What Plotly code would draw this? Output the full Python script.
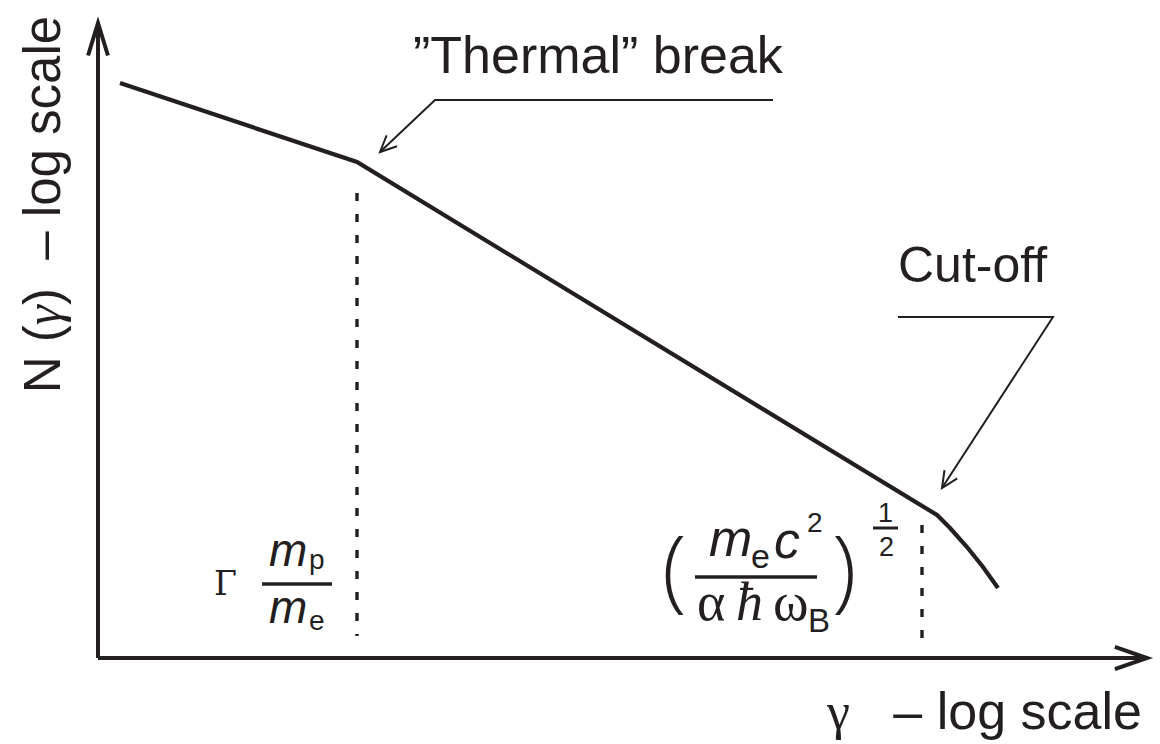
import math
import plotly.graph_objects as go

# Schematic electron spectrum N(gamma); both axes in decades (arbitrary units)
log_gamma = [0.22, 2.59, 8.39, 8.52, 8.69, 8.85, 9.00]
log_N = [5.75, 4.96, 1.43, 1.30, 1.11, 0.91, 0.70]

# Characteristic Lorentz factors marked with dotted drop lines
gamma_thermal = log_gamma[1]
gamma_cutoff = 8.24
drop_thermal = [4.65, 0.22]
drop_cutoff = [1.33, 0.16]

# Extent of the two axis arrows
axis_len_x = 10.49
axis_len_y = 6.35

INK = "#231f20"
SANS = "Liberation Sans, Arial, Helvetica, sans-serif"
SERIF = "Liberation Serif, DejaVu Serif, Times New Roman, serif"
HEAVY_SERIF = "DejaVu Serif, Liberation Serif, serif"
PAREN = "Open Sans, Liberation Sans, sans-serif"

W, H = 1160, 744
PX = 100.0            # pixels per decade on both axes
X0, Y0 = 98.0, 658.0  # canvas position of the origin


def ax(px_x):
    return (px_x - X0) / PX


def ay(px_y):
    return (Y0 - px_y) / PX


fig = go.Figure()

# Spectrum
fig.add_trace(go.Scatter(x=log_gamma, y=log_N, mode="lines",
                         line=dict(color=INK, width=4.2), hoverinfo="skip"))

# Dotted drop lines at the thermal break and the cut-off
for gx, (ytop, ybot) in ((gamma_thermal, drop_thermal), (gamma_cutoff, drop_cutoff)):
    fig.add_trace(go.Scatter(x=[gx, gx], y=[ytop, ybot], mode="lines",
                             line=dict(color=INK, width=3.4, dash="8px,13px"),
                             hoverinfo="skip"))

shapes = []
annotations = []


def vhead(tip, frm, length, half_angle, width):
    """Open V-shaped arrowhead at `tip`, pointing away from `frm`."""
    dx, dy = tip[0] - frm[0], tip[1] - frm[1]
    n = math.hypot(dx, dy)
    bx, by = -dx / n, -dy / n
    pts = []
    for s in (1, -1):
        a = math.radians(s * half_angle)
        rx = bx * math.cos(a) - by * math.sin(a)
        ry = bx * math.sin(a) + by * math.cos(a)
        pts.append((tip[0] + length * rx, tip[1] + length * ry))
    path = "M {:.4f},{:.4f} L {:.4f},{:.4f} L {:.4f},{:.4f}".format(
        pts[0][0], pts[0][1], tip[0], tip[1], pts[1][0], pts[1][1])
    shapes.append(dict(type="path", path=path, xref="x", yref="y",
                       line=dict(color=INK, width=width)))


def segment(x0, y0, x1, y1, width):
    shapes.append(dict(type="line", x0=x0, y0=y0, x1=x1, y1=y1, xref="x", yref="y",
                       line=dict(color=INK, width=width)))


def polyline(pts, width):
    path = "M " + " L ".join("{:.4f},{:.4f}".format(px, py) for px, py in pts)
    shapes.append(dict(type="path", path=path, xref="x", yref="y",
                       line=dict(color=INK, width=width)))


def label(text, cx, base, size, family=SANS, weight=None, **kw):
    """Place text centred at canvas x `cx` with its baseline at canvas y `base`."""
    font = dict(size=size, family=family, color=INK)
    if weight is not None:
        font["weight"] = weight
    annotations.append(dict(x=ax(cx), y=ay(base - 0.35 * size), xref="x", yref="y",
                            text=text, showarrow=False, xanchor="center",
                            yanchor="middle", font=font, **kw))


# Axes with open arrowheads
segment(0, 0, axis_len_x, 0, 4)
segment(0, 0, 0, axis_len_y, 4)
vhead((axis_len_x, 0), (0, 0), 0.34, 19, 4)
vhead((0, axis_len_y), (0, 0), 0.34, 17, 4)

# Callout arrows
thermal_call = [(ax(773), ay(100)), (ax(435), ay(100)), (ax(380), ay(152))]
cutoff_call = [(ax(898), ay(317)), (ax(1053), ay(317)), (ax(942), ay(488))]
for call in (thermal_call, cutoff_call):
    polyline(call, 2)
    vhead(call[-1], call[-2], 0.18, 25, 2)

# Callout texts
label("\u201dThermal\u201d break", 598, 73, 52)
label("Cut-off", 972, 282, 50)

# Axis titles
GAM_UP = '<span style="font-family:Liberation Serif">\u03b3</span>'
GAM_IT = '<span style="font-family:Liberation Serif;font-style:italic">\u03b3</span>'
label(GAM_UP + "\u00a0\u00a0\u00a0\u2013 log scale", 984, 729, 52)
annotations.append(dict(x=ax(60 - 0.35 * 51), y=ay(205), xref="x", yref="y",
                        text="N (" + GAM_IT + ")\u00a0\u00a0\u2013 log scale",
                        textangle=-90, showarrow=False, xanchor="center",
                        yanchor="middle", font=dict(size=51, family=SANS, color=INK)))

# Thermal break: Gamma m_p / m_e
label("\u0393", 225, 595, 33, HEAVY_SERIF)
label("<i>m</i>", 288, 566, 46)
label("p", 317, 569, 28)
segment(ax(262), ay(584), ax(332), ay(584), 3.5)
label("<i>m</i>", 288, 623, 46)
label("e", 317, 630, 28)

# Cut-off: (m_e c^2 / alpha hbar omega_B)^(1/2)
label("(", 674, 597, 90, PAREN, weight=300)
label(")", 844, 597, 90, PAREN, weight=300)
label("<i>m</i>", 730, 556, 52)
label("e", 760, 568, 34)
label("<i>c</i>", 787, 558, 52)
label("2", 815, 532, 28)
segment(ax(695), ay(577), ax(817), ay(577), 3.5)
label("\u03b1", 711, 621, 54, SERIF)
label("<i>\u0127</i>", 749, 621, 54, SERIF)
label("\u03c9", 791, 621, 54, SERIF)
label("B", 819, 632, 33)
label("1", 885, 522, 27)
segment(ax(873), ay(528), ax(898), ay(528), 3)
label("2", 886, 556, 27)

fig.update_layout(
    width=W, height=H,
    margin=dict(l=0, r=0, t=0, b=0),
    paper_bgcolor="white", plot_bgcolor="white",
    showlegend=False,
    xaxis=dict(range=[ax(0), ax(W)], visible=False, fixedrange=True),
    yaxis=dict(range=[ay(H), ay(0)], visible=False, fixedrange=True),
    shapes=shapes,
    annotations=annotations,
)

fig.write_html("out.html")
